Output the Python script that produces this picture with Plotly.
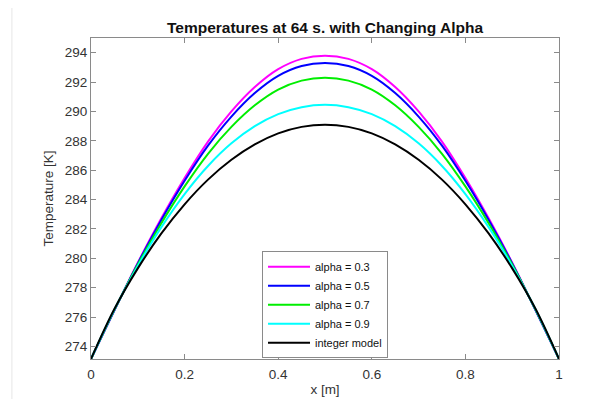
import plotly.graph_objects as go

x_vals = [0.00, 0.05, 0.10, 0.15, 0.20, 0.25, 0.30, 0.35, 0.40, 0.45, 0.50,
          0.55, 0.60, 0.65, 0.70, 0.75, 0.80, 0.85, 0.90, 0.95, 1.00]

half_a03 = [273.15, 276.46, 279.70, 282.71, 285.47, 287.95, 290.00, 291.66, 292.88, 293.58, 293.80]
half_a05 = [273.15, 276.47, 279.66, 282.60, 285.28, 287.67, 289.65, 291.25, 292.42, 293.09, 293.30]
half_a07 = [273.15, 276.49, 279.58, 282.38, 284.90, 287.12, 288.95, 290.42, 291.49, 292.10, 292.30]
half_a09 = [273.15, 276.52, 279.48, 282.11, 284.38, 286.29, 287.83, 289.00, 289.82, 290.29, 290.45]
half_int = [273.15, 276.55, 279.32, 281.68, 283.68, 285.36, 286.71, 287.76, 288.51, 288.95, 289.10]

T_a03 = half_a03 + half_a03[-2::-1]
T_a05 = half_a05 + half_a05[-2::-1]
T_a07 = half_a07 + half_a07[-2::-1]
T_a09 = half_a09 + half_a09[-2::-1]
T_int = half_int + half_int[-2::-1]

series_names = ["alpha = 0.3", "alpha = 0.5", "alpha = 0.7", "alpha = 0.9", "integer model"]
series_values = [T_a03, T_a05, T_a07, T_a09, T_int]
series_colors = ["#ff00ff", "#0000ff", "#00ee00", "#00ffff", "#000000"]

x_ticks = [0, 0.2, 0.4, 0.6, 0.8, 1]
x_ticklabels = ["0", "0.2", "0.4", "0.6", "0.8", "1"]
y_ticks = [274, 276, 278, 280, 282, 284, 286, 288, 290, 292, 294]

fig = go.Figure()
for name, vals, col in zip(series_names, series_values, series_colors):
    fig.add_trace(go.Scatter(x=x_vals, y=vals, mode="lines", name=name,
                             line=dict(color=col, width=2, shape="spline", smoothing=1.0)))

axis_common = dict(showgrid=False, zeroline=False, showline=True, linecolor="#8a8a8a",
                   linewidth=1, mirror="ticks", ticks="inside", ticklen=5, automargin=False,
                   tickcolor="#8a8a8a", tickfont=dict(family="Liberation Sans, Arial", size=13.5, color="#333333"))

fig.update_layout(
    width=595, height=391,
    margin=dict(l=83, r=44, t=30, b=40),
    paper_bgcolor="white", plot_bgcolor="white",
    title=dict(text="<b>Temperatures at 64 s. with Changing Alpha</b>",
               font=dict(family="Liberation Sans, Arial", size=15.5, color="#111111"),
               x=0.5, xanchor="center", xref="paper", y=0.95, yanchor="middle"),
    xaxis=dict(range=[0, 1], tickvals=x_ticks, ticktext=x_ticklabels, ticklabelstandoff=3,
               title=dict(text="x [m]", standoff=3,
                          font=dict(family="Liberation Sans, Arial", size=13.5, color="#333333")),
               **axis_common),
    yaxis=dict(range=[273.15, 295], tickvals=y_ticks,
               title=dict(text="Temperature [K]", standoff=8,
                          font=dict(family="Liberation Sans, Arial", size=13.5, color="#333333")),
               **axis_common),
    legend=dict(x=0.5, y=0.336, xanchor="center", yanchor="top",
                bgcolor="white", bordercolor="#8a8a8a", borderwidth=1,
                font=dict(family="Liberation Sans, Arial", size=11, color="#111111"),
                tracegroupgap=0, itemwidth=42),
    showlegend=True,
    shapes=[dict(type="line", xref="paper", yref="paper", x0=-0.169, x1=-0.169,
                 y0=-0.125, y1=1.095, line=dict(color="#e6e6e6", width=1))],
)

fig.write_html("out.html")
